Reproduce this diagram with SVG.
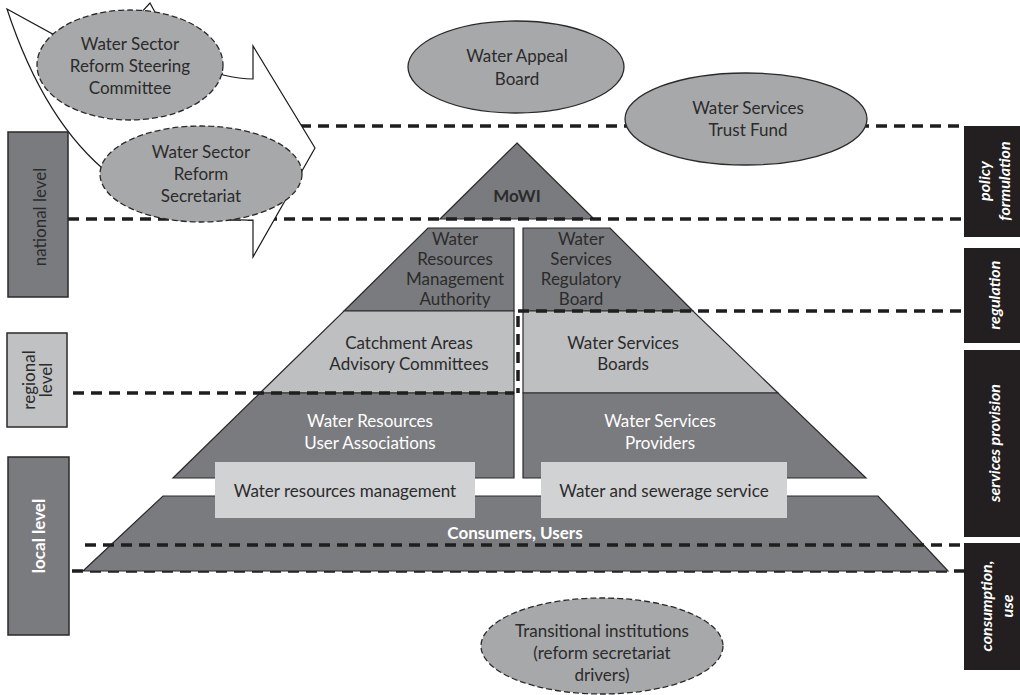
<svg xmlns="http://www.w3.org/2000/svg" width="1020" height="695" viewBox="0 0 1020 695">
<style>
.dk{fill:#7a7b7e;stroke:#2a2a2a;stroke-width:1.2}
.lt{fill:#bebfc1;stroke:#2a2a2a;stroke-width:1.2}
.bx{fill:#d1d2d4;stroke:none}
.el{fill:#a7a8aa;stroke:#2a2a2a;stroke-width:1.3}
.ed{stroke-dasharray:6 3}
.dash{fill:none;stroke:#1e1e1e;stroke-width:3.5;stroke-dasharray:11 7}
.t{font-family:Lato,"Liberation Sans",sans-serif;font-size:17px;fill:#2b2b2b;text-anchor:middle;dominant-baseline:central}
.w{fill:#ffffff}
.b{font-weight:bold}
.side{font-weight:bold;font-style:italic;fill:#ffffff;font-size:16px}
.blk{fill:#231f20}
</style>
<rect width="1020" height="695" fill="#ffffff"/>

<g id="connectors-under">
<line class="dash" x1="72" y1="571" x2="964" y2="571"/>
</g>

<g id="pyramid">
<g id="mowi"><polygon class="dk" points="517,143 594,219 440,219"/><text class="t b" x="517" y="195">MoWI</text></g>
<g id="wrma"><polygon class="dk" points="428,228 514,228 514,311 344,311"/>
<text class="t" x="455" y="238">Water</text><text class="t" x="455" y="258">Resources</text><text class="t" x="455" y="278">Management</text><text class="t" x="455" y="298">Authority</text></g>
<g id="wsrb"><polygon class="dk" points="523,228 610,228 693,311 523,311"/>
<text class="t" x="581" y="238">Water</text><text class="t" x="581" y="258">Services</text><text class="t" x="581" y="278">Regulatory</text><text class="t" x="581" y="298">Board</text></g>
<g id="caac"><polygon class="lt" points="344,311 514,311 514,393 260,393"/>
<text class="t" x="409" y="342">Catchment Areas</text><text class="t" x="409" y="363">Advisory Committees</text></g>
<g id="wsb"><polygon class="lt" points="523,311 693,311 778,393 523,393"/>
<text class="t" x="623" y="342">Water Services</text><text class="t" x="623" y="363">Boards</text></g>
<g id="wrua"><polygon class="dk" points="260,393 514,393 514,478 173,478"/>
<text class="t w" x="370" y="420">Water Resources</text><text class="t w" x="370" y="442">User Associations</text></g>
<g id="wsp"><polygon class="dk" points="523,393 778,393 866,478 523,478"/>
<text class="t w" x="660" y="420">Water Services</text><text class="t w" x="660" y="442">Providers</text></g>
<g id="consumers"><polygon class="dk" points="163,496 878,496 948,571 83,571"/>
<text class="t w b" x="515" y="532">Consumers, Users</text></g>
<g id="wrm"><rect class="bx" x="215" y="462" width="260" height="56"/><text class="t" x="345" y="490">Water resources management</text></g>
<g id="wss"><rect class="bx" x="541" y="462" width="246" height="56"/><text class="t" x="664" y="490">Water and sewerage service</text></g>
</g>

<g id="connectors">
<line class="dash" x1="300" y1="126" x2="964" y2="126"/>
<line class="dash" x1="68" y1="219" x2="964" y2="219"/>
<line class="dash" x1="518" y1="311" x2="964" y2="311"/>
<line class="dash" x1="518" y1="316" x2="518" y2="393"/>
<line class="dash" x1="73" y1="393" x2="514" y2="393"/>
<line class="dash" x1="85" y1="545" x2="964" y2="545"/>
</g>

<g id="arrow">
<path d="M7,9 L60,38 L140,14 L150,3 L156,14 L215,60 L223,75 Q240,79 253,79 L253,46 L315,148 L253,257 L253,220 C150,222 60,170 7,9 Z" fill="#ffffff" stroke="#1a1a1a" stroke-width="1.2" stroke-linejoin="miter"/>
</g>

<g id="steering"><ellipse class="el ed" cx="130" cy="65" rx="93" ry="55"/>
<text class="t" x="130" y="43">Water Sector</text><text class="t" x="130" y="65">Reform Steering</text><text class="t" x="130" y="87">Committee</text></g>
<g id="secretariat"><ellipse class="el ed" cx="201" cy="174" rx="101" ry="48"/>
<text class="t" x="201" y="151">Water Sector</text><text class="t" x="201" y="173">Reform</text><text class="t" x="201" y="195">Secretariat</text></g>
<g id="appeal"><ellipse class="el" cx="516" cy="67" rx="108" ry="46"/>
<text class="t" x="517" y="55">Water Appeal</text><text class="t" x="517" y="78">Board</text></g>
<g id="trustfund"><ellipse class="el" cx="746" cy="119" rx="121" ry="46"/>
<text class="t" x="748" y="107">Water Services</text><text class="t" x="748" y="129">Trust Fund</text></g>
<g id="transitional"><ellipse class="el ed" cx="602" cy="646" rx="121" ry="48"/>
<text class="t" x="602" y="630">Transitional institutions</text><text class="t" x="602" y="652">(reform secretariat</text><text class="t" x="602" y="674">drivers)</text></g>

<g id="national"><rect x="8" y="132" width="60" height="165" fill="#7a7b7e" stroke="#2a2a2a" stroke-width="1.5"/>
<text class="t" transform="translate(39,217) rotate(-90)">national level</text></g>
<g id="regional"><rect x="7" y="333" width="60" height="94" fill="#c0c1c3" stroke="#2a2a2a" stroke-width="1.5"/>
<text class="t" transform="translate(28,380) rotate(-90)">regional</text><text class="t" transform="translate(45,380) rotate(-90)">level</text></g>
<g id="local"><rect x="8" y="457" width="61" height="178" fill="#7a7b7e" stroke="#2a2a2a" stroke-width="1.5"/>
<text class="t w b" transform="translate(38,536) rotate(-90)">local level</text></g>

<g id="policy"><rect class="blk" x="964" y="126" width="56" height="111"/>
<text class="t side" transform="translate(983,181) rotate(-90)">policy</text><text class="t side" transform="translate(1003,181) rotate(-90)">formulation</text></g>
<g id="regulation"><rect class="blk" x="964" y="248" width="56" height="95"/>
<text class="t side" transform="translate(993,295) rotate(-90)">regulation</text></g>
<g id="provision"><rect class="blk" x="964" y="350" width="56" height="187"/>
<text class="t side" transform="translate(993,443) rotate(-90)">services provision</text></g>
<g id="consumption"><rect class="blk" x="964" y="543" width="56" height="127"/>
<text class="t side" transform="translate(985,606) rotate(-90)">consumption,</text><text class="t side" transform="translate(1006,606) rotate(-90)">use</text></g>
</svg>
